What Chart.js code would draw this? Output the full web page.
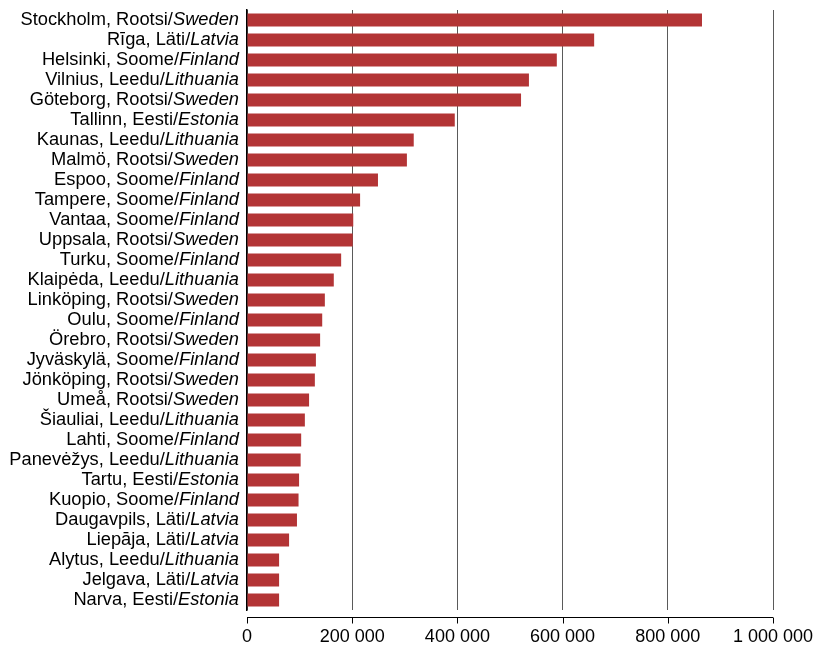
<!DOCTYPE html>
<html>
<head>
<meta charset="utf-8">
<script src="https://cdn.jsdelivr.net/npm/chart.js@4/dist/chart.umd.min.js"></script>
<style>
  html, body { margin: 0; padding: 0; background: #fff; }
  #wrap { width: 816px; height: 648px; }
</style>
</head>
<body>
<div id="wrap"><canvas id="myChart"></canvas></div>
<script>
// linnad, riik eesti ja inglise keeles, rahvaarv
const cities = ["Stockholm", "Rīga", "Helsinki", "Vilnius", "Göteborg", "Tallinn", "Kaunas", "Malmö",
  "Espoo", "Tampere", "Vantaa", "Uppsala", "Turku", "Klaipėda", "Linköping", "Oulu", "Örebro",
  "Jyväskylä", "Jönköping", "Umeå", "Šiauliai", "Lahti", "Panevėžys", "Tartu", "Kuopio",
  "Daugavpils", "Liepāja", "Alytus", "Jelgava", "Narva"]
const countryEt = ["Rootsi", "Läti", "Soome", "Leedu", "Rootsi", "Eesti", "Leedu", "Rootsi",
  "Soome", "Soome", "Soome", "Rootsi", "Soome", "Leedu", "Rootsi", "Soome", "Rootsi",
  "Soome", "Rootsi", "Rootsi", "Leedu", "Soome", "Leedu", "Eesti", "Soome",
  "Läti", "Läti", "Leedu", "Läti", "Eesti"]
const countryEn = ["Sweden", "Latvia", "Finland", "Lithuania", "Sweden", "Estonia", "Lithuania", "Sweden",
  "Finland", "Finland", "Finland", "Sweden", "Finland", "Lithuania", "Sweden", "Finland", "Sweden",
  "Finland", "Sweden", "Sweden", "Lithuania", "Finland", "Lithuania", "Estonia", "Finland",
  "Latvia", "Latvia", "Lithuania", "Latvia", "Estonia"]
const population = [865000, 660000, 589000, 536000, 521000, 395000, 317000, 304000,
  249000, 215000, 202000, 201000, 179000, 165000, 148000, 143000, 139000,
  131000, 129000, 118000, 110000, 103000, 102000, 99000, 98000,
  95000, 80000, 61000, 61000, 61000]
const xTicks = [0, 200000, 400000, 600000, 800000, 1000000]

const FONT = '"Liberation Sans", Arial, sans-serif'
const labels = cities.map((c, i) => c + ", " + countryEt[i] + "/" + countryEn[i])

const fmt = (v) => String(v).replace(/\B(?=(\d{3})+(?!\d))/g, " ")

// sildid: osa tavakirjas, riik inglise keeles kaldkirjas
const labelPlugin = {
  id: 'labelPlugin',
  afterDraw(chart) {
    const ctx = chart.ctx
    const y = chart.scales.y
    const x = chart.scales.x
    const area = chart.chartArea
    ctx.save()
    ctx.fillStyle = '#000'
    ctx.textBaseline = 'middle'
    ctx.textAlign = 'left'
    const right = area.left - 8
    cities.forEach((c, i) => {
      const py = y.getPixelForValue(i)
      const first = c + ", " + countryEt[i] + "/"
      ctx.font = 'italic 18.3px ' + FONT
      const wIt = ctx.measureText(countryEn[i]).width
      ctx.fillText(countryEn[i], right - wIt, py)
      ctx.font = '18.3px ' + FONT
      const wN = ctx.measureText(first).width
      ctx.fillText(first, right - wIt - wN, py)
    })
    // x-telg veidi allpool joonise ala
    const axisY = Math.round(area.bottom) + 7.5
    ctx.strokeStyle = '#000'
    ctx.lineWidth = 1
    ctx.beginPath()
    ctx.moveTo(x.getPixelForValue(0), axisY)
    ctx.lineTo(x.getPixelForValue(1000000), axisY)
    xTicks.forEach(t => {
      const px = Math.round(x.getPixelForValue(t)) + 0.5
      ctx.moveTo(px, axisY)
      ctx.lineTo(px, axisY + 6)
    })
    ctx.stroke()
    ctx.restore()
  }
}

let ctx = document.getElementById('myChart').getContext('2d')
let myChart = new Chart(ctx, {
  type: 'bar',
  data: {
    labels: labels,
    datasets: [{
      label: 'Rahvaarv',
      data: population,
      backgroundColor: 'rgb(179,52,53)',
      barPercentage: 0.65,
      categoryPercentage: 1
    }]
  },
  options: {
    indexAxis: 'y',
    responsive: true,
    maintainAspectRatio: false,
    animation: false,
    layout: { padding: { top: 10, right: 43, bottom: 0, left: 0 } },
    plugins: { legend: { display: false }, tooltip: { enabled: false } },
    scales: {
      x: {
        min: 0,
        max: 1000000,
        afterBuildTicks: (s) => { s.ticks = xTicks.map(v => ({ value: v })) },
        afterFit: (s) => { s.height = 38; s.paddingLeft = 0; s.paddingRight = 0 },
        grid: { color: '#5a5a5a', lineWidth: 1, drawTicks: false },
        border: { display: false },
        ticks: {
          color: '#000',
          font: { family: FONT, size: 18 },
          padding: 16,
          maxRotation: 0,
          callback: (v) => fmt(v)
        }
      },
      y: {
        grid: { display: false },
        border: { display: true, color: '#000', width: 1.5 },
        ticks: { display: false },
        afterFit: (s) => { s.width = 247; s.paddingTop = 0; s.paddingBottom = 0 }
      }
    }
  },
  plugins: [labelPlugin]
})
</script>
</body>
</html>
